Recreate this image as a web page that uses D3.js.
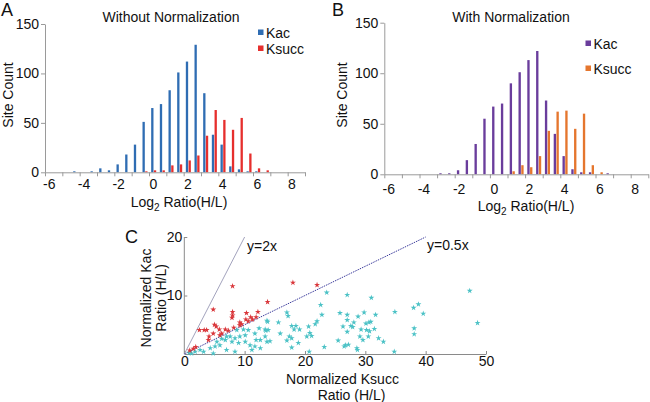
<!DOCTYPE html>
<html><head><meta charset="utf-8">
<script src="https://cdn.jsdelivr.net/npm/d3@7"></script>
<style>
html,body{margin:0;padding:0;background:#fff;}
svg text{font-family:"Liberation Sans",Arial,Helvetica,sans-serif;fill:#111;}
</style></head>
<body>
<svg id="chart" width="650" height="402"></svg>
<script>
// ---------- DATA ----------
const bins = ["-6","-5.5","-5","-4.5","-4","-3.5","-3","-2.5","-2","-1.5","-1","-0.5","0","0.5","1","1.5","2","2.5","3","3.5","4","4.5","5","5.5","6","6.5","7","7.5","8","8.5"];
const binLabels = ["-6","-4","-2","0","2","4","6","8"];
const seriesNames = ["Kac","Ksucc"];
const kacRaw    = [0,0,0,1,0,1,4,2,8,18,28,51,65,69,83,101,112,129,80,38,28,6,3,1,1,0,0,0,0,0];
const ksuccRaw  = [0,0,0,0,0,0,0,0,0,0,0,1,2,2,7,8,12,17,37,63,53,43,55,19,4,2,0,0,0,0];
const kacNorm   = [0,0,0,0,0,0,1,1,4,14,30,55,67,70,90,101,113,122,73,40,18,5,2,2,0,1,0,0,0,0];
const ksuccNorm = [0,0,0,0,0,0,0,0,0,0,0,0,0,0,3,9,7,18,43,62,63,45,60,9,2,0,0,0,0,0];
const countTicks = [0,50,100,150];

// scatter (normalized Ksucc ratio, normalized Kac ratio)
const kacFavored = [[8.0,11.6],[18.0,12.2],[22.0,11.8],[13.8,8.9],[4.8,7.6],[8.0,7.2],[8.0,6.6],[10.3,7.0],[12.2,7.2],[5.0,5.0],[5.3,4.7],[2.5,4.1],[3.3,4.1],[3.7,4.1],[5.8,4.2],[6.8,4.2],[7.3,4.0],[8.2,4.5],[9.2,4.9],[9.5,5.1],[10.6,5.6],[11.3,5.9],[11.9,6.3],[11.0,6.3],[9.2,5.4],[7.9,6.2],[4.1,3.0],[4.8,3.5],[5.9,3.2],[4.0,2.4],[6.2,3.5],[1.9,1.2],[1.5,0.9],[0.9,0.6],[10.2,5.9]];
const ksuccFavored = [[23.6,10.5],[27.0,10.1],[31.0,9.6],[22.6,8.4],[22.8,6.7],[25.8,7.0],[27.0,6.7],[29.8,7.1],[31.7,6.7],[34.9,7.2],[38.0,7.9],[38.8,8.5],[39.6,6.9],[38.1,4.4],[38.1,3.4],[47.3,10.8],[48.6,5.3],[34.8,0.4],[33.0,2.1],[32.2,2.7],[31.5,4.3],[30.7,3.9],[30.2,4.1],[29.3,4.2],[30.1,5.2],[30.6,5.4],[30.9,5.5],[28.8,6.4],[28.1,5.4],[27.0,5.8],[27.6,4.8],[27.9,4.6],[26.3,4.7],[27.0,3.8],[29.1,3.0],[29.6,2.4],[30.5,3.0],[26.5,1.3],[26.7,1.5],[27.2,1.6],[28.6,1.0],[28.7,0.7],[25.5,2.3],[23.2,1.2],[20.7,0.4],[17.0,7.1],[17.2,6.5],[13.7,5.7],[15.6,5.4],[13.5,4.0],[13.9,4.1],[17.8,4.8],[18.2,4.2],[19.1,4.2],[18.5,4.8],[17.4,3.0],[17.8,2.7],[17.0,2.3],[15.9,3.5],[20.6,4.7],[20.8,3.6],[21.1,3.1],[20.3,3.0],[21.7,5.1],[22.0,5.6],[14.2,2.2],[18.9,1.9],[17.8,1.1],[12.6,2.4],[13.8,5.5],[13.4,4.2],[12.4,4.4],[11.7,3.5],[10.1,3.2],[9.2,3.0],[8.4,2.7],[7.6,3.0],[6.8,2.4],[7.9,2.1],[9.0,1.9],[10.1,2.1],[10.9,1.5],[11.7,1.3],[12.6,1.0],[11.2,0.7],[5.9,1.5],[5.1,1.3],[4.3,1.0],[3.2,0.4],[2.6,0.7],[1.8,0.4],[1.2,0.1],[0.8,0.2],[7.0,0.7],[8.4,0.4],[4.8,0.1],[6.2,2.6],[7.0,3.0],[8.7,4.1],[9.8,4.2],[10.6,4.1],[13.4,3.0],[13.7,2.1],[11.9,2.4],[5.4,2.1]];
const scatterXTicks = [0,10,20,30,40,50];
const scatterYTicks = [10,20];
const refLines = [{slope:2, xEnd:10, label:"y=2x"},{slope:0.5, xEnd:40, label:"y=0.5x"}];

// ---------- DRAW ----------
const svg = d3.select("#chart");
const axisGray = "#9a9a9a";

function histPanel(opt){
  const g = svg.append("g");
  const x = d3.scaleBand().domain(bins).range([opt.x0, opt.x1]).padding(0);
  const xb = d3.scaleLinear().domain([0, bins.length]).range([opt.x0, opt.x1]);
  const y = d3.scaleLinear().domain([0,150]).range([opt.y0, opt.yTop]);
  const bw = x.bandwidth();
  const x1 = d3.scaleBand().domain(seriesNames).range([bw*0.25, bw*0.83]).paddingInner(0.15);

  const data = [];
  bins.forEach((b,i)=>{
    data.push({bin:b, s:"Kac", v:opt.kac[i]});
    data.push({bin:b, s:"Ksucc", v:opt.ksucc[i]});
  });
  g.selectAll("rect.bar").data(data.filter(d=>d.v>0)).join("rect")
    .attr("x", d=>x(d.bin)+x1(d.s))
    .attr("width", x1.bandwidth())
    .attr("y", d=>y(d.v))
    .attr("height", d=>y(0)-y(d.v))
    .attr("fill", d=>d.s==="Kac"?opt.c1:opt.c2);

  const ya = g.append("g").attr("transform",`translate(${opt.x0},0)`)
    .call(d3.axisLeft(y).tickValues(countTicks).tickSize(4).tickSizeOuter(0).tickPadding(2));
  const xa = g.append("g").attr("transform",`translate(0,${opt.y0})`)
    .call(d3.axisBottom(x).tickValues(binLabels).tickSize(0).tickPadding(opt.xPad));
  xa.select(".domain").remove();
  const xt = g.append("g").attr("transform",`translate(0,${opt.y0})`)
    .call(d3.axisBottom(xb).tickValues(d3.range(0, bins.length+1, 2)).tickFormat("").tickSize(4).tickSizeOuter(0));
  [ya,xt].forEach(a=>{a.selectAll("path,line").attr("stroke",axisGray);});
  [ya,xa].forEach(a=>{a.selectAll("text").attr("font-size",14).attr("font-family",null).attr("fill","#111");});

  g.append("text").attr("x",opt.titleX).attr("y",22).attr("text-anchor","middle")
    .attr("font-size",14).text(opt.title);
  g.append("text").attr("x",opt.letterX).attr("y",16).attr("font-size",18).text(opt.letter);
  g.append("text").attr("transform",`translate(${opt.yLabX},95) rotate(-90)`)
    .attr("text-anchor","middle").attr("font-size",14).text("Site Count");
  const xl = g.append("text").attr("x",opt.xLabX).attr("y",opt.xLabY).attr("text-anchor","middle").attr("font-size",14);
  xl.append("tspan").text("Log");
  xl.append("tspan").attr("font-size",10).attr("dy",4).text("2");
  xl.append("tspan").attr("dy",-4).text(" Ratio(H/L)");
  const leg = g.append("g");
  seriesNames.forEach((s,i)=>{
    const ly = opt.legY + i*opt.legGap;
    leg.append("rect").attr("x",opt.legX).attr("y",ly-3).attr("width",5.5).attr("height",5.5)
      .attr("fill", i===0?opt.c1:opt.c2);
    leg.append("text").attr("x",opt.legX+8).attr("y",ly+5).attr("font-size",14).text(s);
  });
}

histPanel({x0:45, x1:305, y0:172.3, yTop:24, kac:kacRaw, ksucc:ksuccRaw,
  c1:"#2f6db3", c2:"#e62f2d", title:"Without Normalization", titleX:171,
  letter:"A", letterX:1, yLabX:13, xLabX:179, xLabY:207, xPad:7,
  legX:258, legY:32.5, legGap:16});
histPanel({x0:384.3, x1:648.3, y0:174.3, yTop:22.7, kac:kacNorm, ksucc:ksuccNorm,
  c1:"#6a3d9c", c2:"#e5762e", title:"With Normalization", titleX:511,
  letter:"B", letterX:332, yLabX:347, xLabX:526, xLabY:211, xPad:10,
  legX:585.5, legY:43.5, legGap:25});

// ---------- Panel C ----------
const gc = svg.append("g");
const xC = d3.scaleLinear().domain([0,50]).range([184.3,486]);
const yC = d3.scaleLinear().domain([0,20]).range([354,237]);

const xaC = gc.append("g").attr("transform",`translate(0,${yC(0)})`)
  .call(d3.axisBottom(xC).tickValues(scatterXTicks).tickSize(-3).tickSizeOuter(0).tickPadding(2.5));
const yaC = gc.append("g").attr("transform",`translate(${xC(0)},0)`)
  .call(d3.axisLeft(yC).tickValues(scatterYTicks).tickSize(-3).tickSizeOuter(0).tickPadding(2));
yaC.select(".domain").attr("d", `M0,${yC(0)}V${yC(20)}`);
[xaC,yaC].forEach(a=>{
  a.selectAll("path,line").attr("stroke","#8a8a8a");
  a.selectAll("text").attr("font-size",14).attr("font-family",null).attr("fill","#111");
});

gc.selectAll("line.ref").data(refLines).join("line")
  .attr("x1", xC(0)).attr("y1", yC(0))
  .attr("x2", d=>xC(d.xEnd)).attr("y2", d=>yC(d.slope*d.xEnd))
  .attr("stroke", d=>d.slope>1?"#a3a3bd":"#3b3b9c")
  .attr("stroke-width", 1)
  .attr("stroke-dasharray", d=>d.slope>1?null:"1.5,1");
gc.append("text").attr("x",247).attr("y",251).attr("font-size",14).text(refLines[0].label);
gc.append("text").attr("x",427).attr("y",250).attr("font-size",14).text(refLines[1].label);

const star = d3.symbol().type(d3.symbolStar).size(11);
gc.selectAll("path.cy").data(ksuccFavored).join("path")
  .attr("transform", d=>`translate(${xC(d[0])},${yC(d[1])})`)
  .attr("d", star).attr("fill","#4cc2c6");
gc.selectAll("path.rd").data(kacFavored).join("path")
  .attr("transform", d=>`translate(${xC(d[0])},${yC(d[1])})`)
  .attr("d", star).attr("fill","#d9363a");

gc.append("text").attr("x",125).attr("y",243).attr("font-size",18).text("C");
gc.append("text").attr("transform","translate(151,298) rotate(-90)").attr("text-anchor","middle")
  .attr("font-size",14).text("Normalized Kac");
gc.append("text").attr("transform","translate(166,298) rotate(-90)").attr("text-anchor","middle")
  .attr("font-size",14).text("Ratio (H/L)");
gc.append("text").attr("x",342.5).attr("y",384).attr("text-anchor","middle").attr("font-size",14).text("Normalized Ksucc");
gc.append("text").attr("x",351.5).attr("y",400).attr("text-anchor","middle").attr("font-size",14).text("Ratio (H/L)");
</script>
</body></html>
